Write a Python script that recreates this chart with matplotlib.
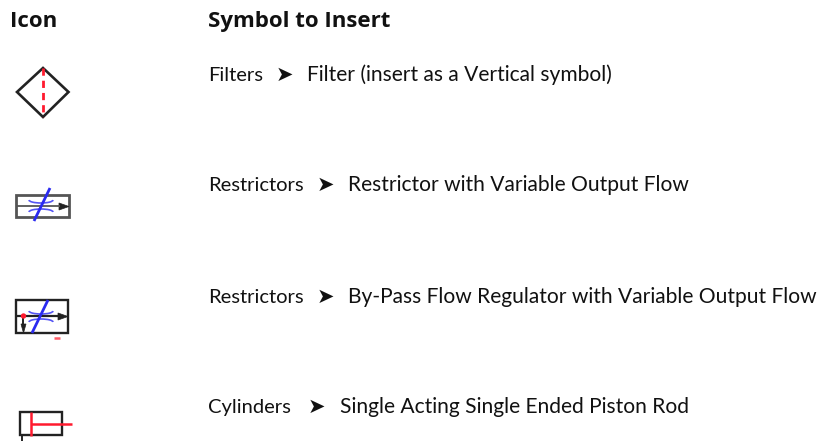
import matplotlib
matplotlib.use("Agg")
import matplotlib.pyplot as plt
from matplotlib.patches import Polygon, Rectangle, Circle, Arc

headers = ["Icon", "Symbol to Insert"]
groups = ["Filters", "Restrictors", "Restrictors", "Cylinders"]
symbols = [
    "Filter (insert as a Vertical symbol)",
    "Restrictor with Variable Output Flow",
    "By-Pass Flow Regulator with Variable Output Flow",
    "Single Acting Single Ended Piston Rod",
]
row_y = [81, 191, 303, 413]
arrow_x = [276, 317, 317, 308]
symbol_x = [307, 348, 348, 340]

BLACK = "#222222"
GREY = "#555555"
RED = "#ff1a2e"
BLUE = "#2a2af0"
FONT = ["Lato", "DejaVu Sans"]
HEAD_FONT = ["Open Sans", "DejaVu Sans"]


def line(ax, xs, ys, color=BLACK, lw=1.8, **kw):
    ax.plot(xs, ys, color=color, lw=lw, solid_capstyle="butt", **kw)


def arrow_head(ax, pts, color=BLACK):
    ax.add_patch(Polygon(pts, closed=True, fc=color, ec=color, lw=0.5))


def throttle(ax, cx, top, bottom):
    # the two curved lines of a variable restrictor, bowing towards the centre
    ax.add_patch(Arc((cx, top), 24, 6, theta1=0, theta2=180, color=BLUE, lw=1.2, alpha=0.8))
    ax.add_patch(Arc((cx, bottom), 24, 6, theta1=180, theta2=360, color=BLUE, lw=1.2, alpha=0.8))


def filter_icon(ax):
    ax.add_patch(Polygon([(43, 68), (68.5, 92), (43, 117), (17, 92)], closed=True,
                         fc="none", ec=BLACK, lw=1.9))
    line(ax, [43, 43], [68, 117], color=RED, lw=2, linestyle=(0, (2.6, 1.8)))


def restrictor_icon(ax):
    ax.add_patch(Rectangle((16, 195), 53, 22, fc="none", ec=GREY, lw=2))
    line(ax, [16, 60], [206, 206], color=GREY, lw=1.3)
    arrow_head(ax, [(59, 203), (69, 206.5), (59, 210)])
    throttle(ax, 41, 200, 212)
    line(ax, [34, 50], [221, 188], color=BLUE, lw=2)


def bypass_icon(ax):
    ax.add_patch(Rectangle((16, 300), 52, 33, fc="none", ec=BLACK, lw=1.7))
    line(ax, [16, 60], [316, 316], color=BLACK, lw=1.6)
    arrow_head(ax, [(58, 313), (68, 316.5), (58, 320)])
    line(ax, [23.5, 23.5], [316, 326], color=BLACK, lw=1.4)
    arrow_head(ax, [(21, 324), (26, 324), (23.5, 333)])
    ax.add_patch(Circle((23.5, 316), 2.7, fc=RED, ec=RED, lw=0, zorder=3))
    throttle(ax, 41, 311, 322)
    line(ax, [32, 48], [333, 300], color=BLUE, lw=2)
    line(ax, [54, 60], [337.5, 337.5], color="#ff5a66", lw=1.8)


def cylinder_icon(ax):
    ax.add_patch(Rectangle((20, 412), 42, 23, fc="none", ec=BLACK, lw=1.7))
    line(ax, [31, 31], [412, 436], color=RED, lw=1.8)
    line(ax, [31, 72], [424, 424], color=RED, lw=1.8)
    line(ax, [22.5, 22.5], [435, 441], color=BLACK, lw=1.4)


fig = plt.figure(figsize=(8.23, 4.43), dpi=100)
ax = fig.add_axes([0, 0, 1, 1])
ax.set_xlim(0, 823)
ax.set_ylim(443, 0)
ax.axis("off")

ax.text(10.5, 27, headers[0], fontsize=16, fontweight="bold", family=HEAD_FONT, va="baseline", color="#111111")
ax.text(208.5, 27, headers[1], fontsize=16, fontweight="bold", family=HEAD_FONT, va="baseline", color="#111111")

for group, symbol, y, ax_x, sym_x in zip(groups, symbols, row_y, arrow_x, symbol_x):
    ax.text(208.5, y, group, fontsize=14.5, family=FONT, va="baseline", color="#111111")
    ax.text(ax_x, y, "\u27a4", fontsize=15, family=["DejaVu Sans"], va="baseline", color="#111111")
    ax.text(sym_x, y, symbol, fontsize=15.1, family=FONT, va="baseline", color="#111111")

filter_icon(ax)
restrictor_icon(ax)
bypass_icon(ax)
cylinder_icon(ax)

fig.savefig("out.png", dpi=100)
